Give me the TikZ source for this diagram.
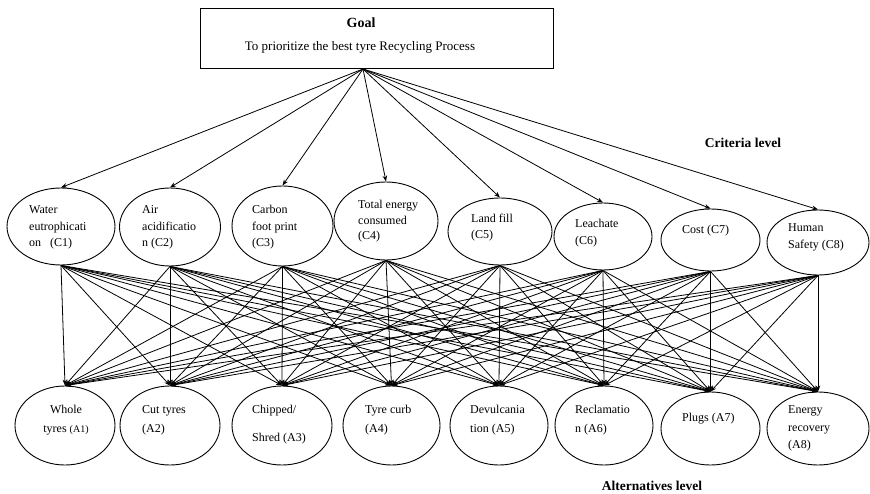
\documentclass[tikz,border=0pt]{standalone}
\usepackage{fontspec}
\setmainfont{Liberation Serif}
\usetikzlibrary{shapes.geometric,arrows.meta}

\begin{document}
\begin{tikzpicture}[x=1pt,y=-1pt,
  bubble/.style={draw, ellipse, line width=0.9pt, inner sep=0pt},
  txt/.style={anchor=base west, inner sep=0pt, font=\fontsize{12}{14}\selectfont},
  ctxt/.style={anchor=base, inner sep=0pt, font=\fontsize{12}{14}\selectfont},
  link/.style={line width=0.8pt, -{Stealth[length=6pt,width=4.5pt]}},
  lvl/.style={anchor=base, inner sep=0pt, font=\fontsize{13.5}{16}\selectfont\bfseries}]
\useasboundingbox (0,0) rectangle (870,494);

% goal box
\node[draw, line width=0.9pt, minimum width=353, minimum height=60, inner sep=0pt] (goal) at (376.5,38.5) {};
\node[anchor=base, inner sep=0pt, font=\fontsize{14}{16}\selectfont\bfseries] (goalt) at (361,27.5) {Goal};
\node[anchor=base, inner sep=0pt, font=\fontsize{13}{16}\selectfont] (goals) at (360,51) {To prioritize the best tyre Recycling Process};
\coordinate (apex) at (363,69);

% criteria
\node[bubble, minimum width=108, minimum height=77] (c1) at (61,226.5) {};
\node[bubble, minimum width=101, minimum height=78] (c2) at (170,227) {};
\node[bubble, minimum width=101, minimum height=80] (c3) at (282.5,226) {};
\node[bubble, minimum width=104, minimum height=78] (c4) at (386,221) {};
\node[bubble, minimum width=104, minimum height=67] (c5) at (500,231.5) {};
\node[bubble, minimum width=98, minimum height=67] (c6) at (603,236.5) {};
\node[bubble, minimum width=99, minimum height=62] (c7) at (710.5,240) {};
\node[bubble, minimum width=102, minimum height=65] (c8) at (818,242.5) {};

\node[txt] (c1a) at (29,214) {Water};
\node[txt] (c1b) at (29,231) {eutrophicati};
\node[txt] (c1c) at (29,247) {on\ \ \ (C1)};
\node[txt] (c2a) at (142,214) {Air};
\node[txt] (c2b) at (142,231) {acidificatio};
\node[txt] (c2c) at (142,247) {n (C2)};
\node[txt] (c3a) at (252,214) {Carbon};
\node[txt] (c3b) at (252,231) {foot print};
\node[txt] (c3c) at (252,247) {(C3)};
\node[txt] (c4a) at (358,209) {Total energy};
\node[txt] (c4b) at (358,225) {consumed};
\node[txt] (c4c) at (358,240) {(C4)};
\node[txt] (c5a) at (471,223) {Land fill};
\node[txt] (c5b) at (471,239) {(C5)};
\node[txt] (c6a) at (575,228) {Leachate};
\node[txt] (c6b) at (575,245) {(C6)};
\node[txt] (c7a) at (682,234) {Cost (C7)};
\node[txt] (c8a) at (788,232) {Human};
\node[txt] (c8b) at (788,249) {Safety (C8)};

% alternatives
\node[bubble, minimum width=100, minimum height=79] (a1) at (65,425.5) {};
\node[bubble, minimum width=100, minimum height=79] (a2) at (170,425.5) {};
\node[bubble, minimum width=100, minimum height=79] (a3) at (282,425.5) {};
\node[bubble, minimum width=97, minimum height=79] (a4) at (391.5,425.5) {};
\node[bubble, minimum width=98, minimum height=79] (a5) at (499,425.5) {};
\node[bubble, minimum width=98, minimum height=79] (a6) at (604,425.5) {};
\node[bubble, minimum width=99, minimum height=73] (a7) at (710.5,428.5) {};
\node[bubble, minimum width=102, minimum height=73] (a8) at (818,428.5) {};

\node[ctxt] (a1a) at (66,413) {Whole};
\node[ctxt] (a1b) at (66,432) {tyres {\fontsize{10}{12}\selectfont(A1)}};
\node[txt] (a2a) at (142,413) {Cut tyres};
\node[txt] (a2b) at (142,432) {(A2)};
\node[txt] (a3a) at (252,413) {Chipped/};
\node[txt] (a3b) at (252,441) {Shred (A3)};
\node[txt] (a4a) at (365,413) {Tyre curb};
\node[txt] (a4b) at (365,432) {(A4)};
\node[txt] (a5a) at (470,413) {Devulcania};
\node[txt] (a5b) at (470,432) {tion (A5)};
\node[txt] (a6a) at (575,413) {Reclamatio};
\node[txt] (a6b) at (575,432) {n (A6)};
\node[txt] (a7a) at (682,421) {Plugs (A7)};
\node[txt] (a8a) at (788,413) {Energy};
\node[txt] (a8b) at (788,431) {recovery};
\node[txt] (a8c) at (788,448) {(A8)};

% level labels
\node[lvl] (critlvl) at (743,147.5) {Criteria level};
\node[lvl] (altlvl) at (652,490) {Alternatives level};

% goal to criteria
\foreach \i in {1,...,8}
  \draw[link] (apex) -- (c\i.north);

% criteria to alternatives
\foreach \i in {1,...,8}
  \foreach \j in {1,...,8}
    \draw[link] (c\i.south) -- (a\j.north);
\end{tikzpicture}
\end{document}
